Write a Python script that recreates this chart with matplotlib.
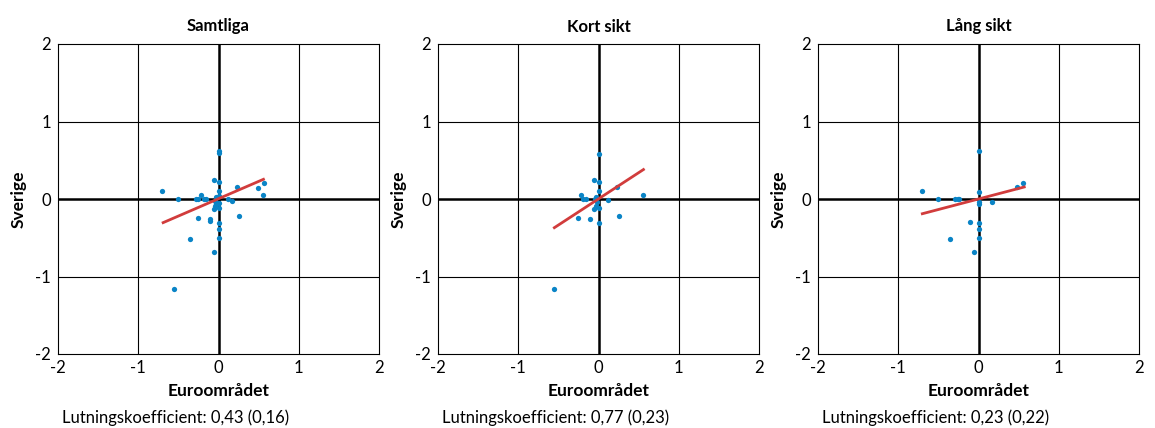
import numpy as np
import matplotlib.pyplot as plt

plt.rcParams['font.family'] = ['Lato', 'DejaVu Sans']

titles = ['Samtliga', 'Kort sikt', 'Lång sikt']
footers = ['Lutningskoefficient: 0,43 (0,16)',
           'Lutningskoefficient: 0,77 (0,23)',
           'Lutningskoefficient: 0,23 (0,22)']

# Samtliga
x1 = [0, 0, -0.06, 0, -0.70, -0.50, -0.28, -0.25, -0.22, -0.15, -0.18, 0, -0.03, 0, -0.04,
      -0.03, -0.05, 0, -0.04, 0.01, 0.23, 0.12, 0.17, 0.49, 0.57, 0.55, 0.25, -0.25, -0.10,
      -0.10, 0, 0, 0, -0.35, -0.06, -0.55]
y1 = [0.60, 0.62, 0.25, 0.22, 0.10, 0.0, 0.0, 0.0, 0.05, 0.0, 0.0, 0.10, 0.03, 0.04, -0.02,
      -0.06, -0.13, -0.11, -0.09, -0.05, 0.15, 0.0, -0.03, 0.14, 0.21, 0.05, -0.22, -0.24,
      -0.26, -0.29, -0.31, -0.39, -0.50, -0.52, -0.69, -1.16]
line1_x = [-0.69, 0.56]
line1_y = [-0.305, 0.254]

# Kort sikt
x2 = [0, -0.06, 0, 0, -0.22, -0.19, -0.15, -0.03, -0.04, 0.23, 0.12, 0.55, -0.02, -0.03,
      0, -0.05, 0.25, -0.25, -0.10, 0, -0.55]
y2 = [0.585, 0.25, 0.22, 0.10, 0.05, 0.0, 0.0, 0.03, 0.0, 0.15, -0.01, 0.05, -0.04, -0.09,
      -0.11, -0.13, -0.22, -0.24, -0.26, -0.31, -1.16]
line2_x = [-0.55, 0.56]
line2_y = [-0.37, 0.38]

# Lång sikt
x3 = [0, -0.70, -0.50, -0.29, -0.26, -0.24, 0, 0, 0, 0.17, 0.48, 0.56, -0.10, 0, 0, 0,
      -0.35, -0.06]
y3 = [0.62, 0.10, 0.0, 0.0, 0.0, 0.0, 0.09, -0.04, -0.07, -0.04, 0.15, 0.21, -0.30, -0.31,
      -0.39, -0.50, -0.52, -0.69]
line3_x = [-0.70, 0.57]
line3_y = [-0.19, 0.155]

xs = [x1, x2, x3]
ys = [y1, y2, y3]
lxs = [line1_x, line2_x, line3_x]
lys = [line1_y, line2_y, line3_y]
ticks = [-2, -1, 0, 1, 2]

fig = plt.figure(figsize=(11.55, 4.28), dpi=100)
lefts = [58 / 1155, 438 / 1155, 818 / 1155]

for i in range(3):
    ax = fig.add_axes([lefts[i], 74 / 428, 321 / 1155, 310 / 428])
    ax.set_xlim(-2, 2)
    ax.set_ylim(-2, 2)
    for v in [-1, 1]:
        ax.axvline(v, color='black', lw=0.8, zorder=1)
        ax.axhline(v, color='black', lw=0.8, zorder=1)
    ax.axvline(0, color='black', lw=1.8, zorder=1)
    ax.axhline(0, color='black', lw=1.8, zorder=1)
    ax.plot(xs[i], ys[i], 'o', color='#0a84c6', ms=3.8, mec='none', zorder=3)
    ax.plot(lxs[i], lys[i], color='#d13c3c', lw=2, zorder=4)
    ax.set_xticks(ticks)
    ax.set_yticks(ticks)
    ax.set_xticklabels([str(t) for t in ticks])
    ax.set_yticklabels([str(t) for t in ticks])
    ax.tick_params(axis='x', length=0, labelsize=12, pad=4)
    ax.tick_params(axis='y', length=0, labelsize=12, pad=5)
    for s in ax.spines.values():
        s.set_linewidth(0.8)
    ax.set_title(titles[i], fontsize=12, fontweight='bold', pad=9)
    ax.set_xlabel('Euroområdet', fontsize=12.5, fontweight='bold', labelpad=5)
    ax.set_ylabel('Sverige', fontsize=12.5, fontweight='bold', labelpad=6)
    ax.text(0.012, -0.178, footers[i], transform=ax.transAxes, fontsize=12,
            ha='left', va='top')

fig.savefig('out.png', dpi=100)
